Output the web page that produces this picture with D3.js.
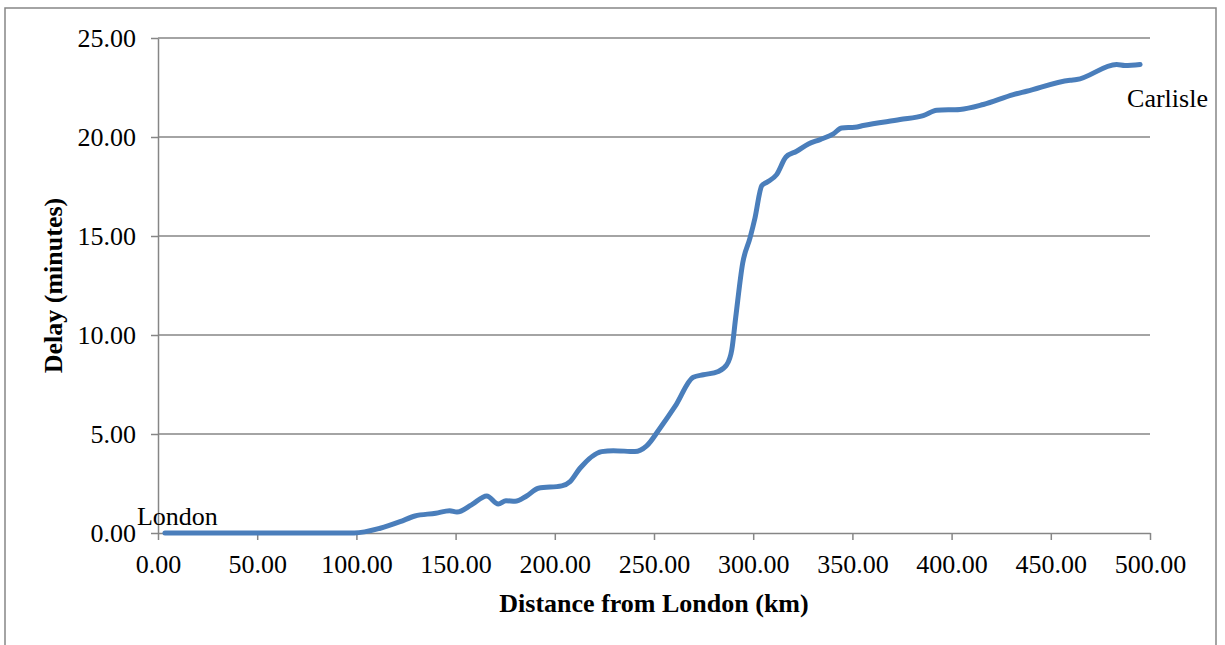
<!DOCTYPE html>
<html>
<head>
<meta charset="utf-8">
<script src="https://cdn.jsdelivr.net/npm/d3@7"></script>
<style>
  html, body { margin: 0; padding: 0; background: #fff; }
  svg text { font-family: "Liberation Serif", "Times New Roman", serif; fill: #000; }
</style>
</head>
<body>
<div id="chart"></div>
<script>
// Distance from London (km) and cumulative delay (minutes)
const distanceKm = [3.5, 25, 50, 75, 99, 112, 122, 129.5, 140, 147, 150.7, 158, 165.7, 171.5, 175.4, 180,
    185.8, 191.7, 203.5, 207.7, 212.7, 223.6, 229.5, 240.4, 246.3, 253, 260.6, 269.8, 274.9, 282.4,
    286.6, 289.2, 291.2, 294.7, 298.4, 300.9, 304.3, 306.8, 311.8, 316.5, 321.9, 327.8, 333.7, 340.4,
    344.6, 351.3, 355.5, 374, 385.7, 392.5, 404.2, 416, 431.1, 437.8, 459.7, 463, 483.2, 487.4, 495];
const delayMin = [0, 0, 0, 0, 0, 0.24, 0.57, 0.86, 1.0, 1.13, 1.06, 1.42, 1.87, 1.47, 1.63, 1.6,
    1.87, 2.26, 2.38, 2.6, 3.27, 4.11, 4.16, 4.11, 4.4, 5.29, 6.39, 7.87, 7.99, 8.16,
    8.49, 9.25, 10.9, 13.63, 14.9, 15.91, 17.54, 17.71, 18.1, 18.99, 19.28, 19.65, 19.87, 20.16,
    20.46, 20.49, 20.58, 20.88, 21.08, 21.35, 21.39, 21.64, 22.14, 22.31, 22.87, 22.9, 23.66, 23.61, 23.66];

const xTicks = [0, 50, 100, 150, 200, 250, 300, 350, 400, 450, 500];
const yTicks = [0, 5, 10, 15, 20, 25];

const data = distanceKm.map((d, i) => ({ km: d, delay: delayMin[i] }));

const W = 1225, H = 645;
const margin = { top: 38, right: 75, bottom: 112, left: 158 };
const width = W - margin.left - margin.right;
const height = H - margin.top - margin.bottom;
const grey = '#868686';

const svg = d3.select('#chart').append('svg')
    .attr('width', W)
    .attr('height', H);

// outer chart frame (runs off the bottom)
svg.append('rect')
    .attr('x', 5).attr('y', 8)
    .attr('width', 1211).attr('height', 660)
    .attr('fill', 'none')
    .attr('stroke', grey)
    .attr('stroke-width', 1.5);

const g = svg.append('g').attr('transform', `translate(${margin.left},${margin.top})`);

const x = d3.scaleLinear().domain([0, 500]).range([0, width]);
const y = d3.scaleLinear().domain([0, 25]).range([height, 0]);

// gridlines
g.selectAll('.grid')
    .data(yTicks.filter(t => t > 0))
    .enter()
    .append('line')
    .attr('class', 'grid')
    .attr('x1', 0).attr('x2', width)
    .attr('y1', d => y(d)).attr('y2', d => y(d))
    .attr('stroke', grey)
    .attr('stroke-width', 1.5);

// axes
const fmt = d3.format('.2f');
const xAxis = g.append('g')
    .attr('transform', `translate(0,${height})`)
    .call(d3.axisBottom(x).tickValues(xTicks).tickFormat(fmt).tickSize(7).tickSizeOuter(0).tickPadding(15));
const yAxis = g.append('g')
    .call(d3.axisLeft(y).tickValues(yTicks).tickFormat(fmt).tickSize(7).tickSizeOuter(0).tickPadding(15));

[xAxis, yAxis].forEach(a => {
    a.select('.domain').attr('stroke', grey).attr('stroke-width', 1.5);
    a.selectAll('.tick line').attr('stroke', grey).attr('stroke-width', 1.5);
    a.selectAll('.tick text')
        .attr('fill', '#000')
        .style('font-family', '"Liberation Serif", serif')
        .style('font-size', '26px');
});

// the delay line
const line = d3.line()
    .x(d => x(d.km))
    .y(d => y(d.delay))
    .curve(d3.curveMonotoneX);

g.append('path')
    .datum(data)
    .attr('fill', 'none')
    .attr('stroke', '#4a7ebb')
    .attr('stroke-width', 5)
    .attr('stroke-linecap', 'round')
    .attr('stroke-linejoin', 'round')
    .attr('d', line);

// end labels
const first = data[0], last = data[data.length - 1];
g.append('text')
    .attr('x', x(first.km) - 28)
    .attr('y', y(first.delay) - 8)
    .style('font-size', '26px')
    .text('London');
g.append('text')
    .attr('x', x(last.km) - 13)
    .attr('y', y(last.delay) + 42)
    .style('font-size', '26px')
    .text('Carlisle');

// axis titles
svg.append('text')
    .attr('x', margin.left + width / 2)
    .attr('y', 612)
    .attr('text-anchor', 'middle')
    .style('font-size', '26px')
    .style('font-weight', 'bold')
    .text('Distance from London (km)');

svg.append('text')
    .attr('transform', `translate(62,${margin.top + height / 2}) rotate(-90)`)
    .attr('text-anchor', 'middle')
    .style('font-size', '26px')
    .style('font-weight', 'bold')
    .text('Delay (minutes)');
</script>
</body>
</html>
